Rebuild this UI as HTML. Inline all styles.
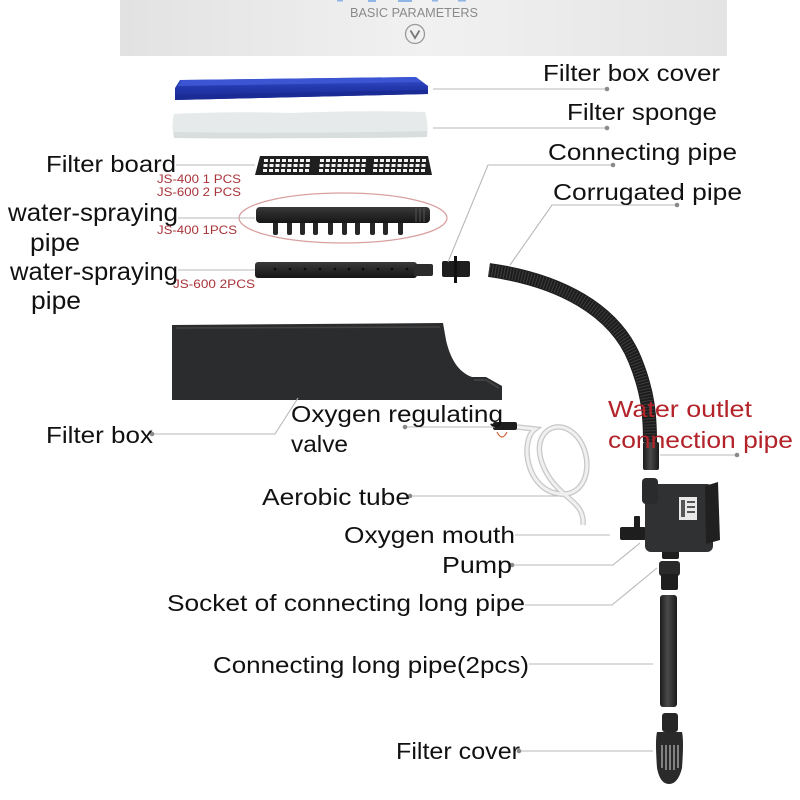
<!DOCTYPE html>
<html><head><meta charset="utf-8"><style>
html,body{margin:0;padding:0;background:#fff;}
svg{display:block;}
text{font-family:"Liberation Sans",sans-serif;}
</style></head><body>
<svg width="800" height="800" viewBox="0 0 800 800" xmlns="http://www.w3.org/2000/svg">
<defs>
<linearGradient id="hdr" x1="0" y1="0" x2="1" y2="0">
<stop offset="0" stop-color="#e2e2e2"/><stop offset="0.5" stop-color="#f1f1f1"/><stop offset="1" stop-color="#e4e4e4"/>
</linearGradient>
<linearGradient id="pipeV" x1="0" y1="0" x2="1" y2="0">
<stop offset="0" stop-color="#1c1c1c"/><stop offset="0.45" stop-color="#4a4a4a"/><stop offset="1" stop-color="#1a1a1a"/>
</linearGradient>
<linearGradient id="pipeH" x1="0" y1="0" x2="0" y2="1">
<stop offset="0" stop-color="#3a3a3a"/><stop offset="0.4" stop-color="#2a2a2a"/><stop offset="1" stop-color="#161616"/>
</linearGradient>
<linearGradient id="blue" x1="0" y1="0" x2="0" y2="1">
<stop offset="0" stop-color="#3a52cf"/><stop offset="0.45" stop-color="#2338ad"/><stop offset="1" stop-color="#1a2a92"/>
</linearGradient>
</defs>

<!-- header -->
<rect x="120" y="0" width="607" height="56" fill="url(#hdr)"/>
<g fill="#8fb4e6">
<rect x="337" y="0" width="6" height="1.5"/>
<rect x="368" y="0" width="8" height="2"/>
<rect x="398" y="0" width="14" height="2"/>
<rect x="432" y="0" width="6" height="1.5"/>
<rect x="458" y="0" width="8" height="1.5"/>
</g>
<text x="350" y="17" font-size="13" fill="#8a8a8a" textLength="128" lengthAdjust="spacingAndGlyphs">BASIC PARAMETERS</text>
<circle cx="415" cy="34" r="9.5" fill="none" stroke="#999" stroke-width="1.3"/>
<path d="M410.5,30.5 L415,38 L419.5,30.5" fill="none" stroke="#777" stroke-width="1.8"/>

<!-- blue cover -->
<path d="M180,80 L416,77 L428,86 L428,94 L175,100 L175,88 Z" fill="url(#blue)"/>
<path d="M182,80 L416,77 L421,82 L178,86 Z" fill="#3c55d2"/>
<path d="M175,95 L428,90 L428,94 L175,100 Z" fill="#1b2b95"/>

<!-- sponge -->
<path d="M174,114 Q230,111 290,113 Q360,110 425,112 Q429,125 427,137 Q360,139 300,137 Q230,139 174,138 Q171,126 174,114 Z" fill="#e6eaea"/>
<path d="M174,132 Q300,134 427,131 L427,137 Q300,139 174,138 Z" fill="#d8dddd"/>

<!-- filter board -->
<path d="M260,156 L428,156 L432,175 L255,175 Z" fill="#1f1f1f"/>
<g fill="#f2f2f2">
<g id="row">
<rect x="264" y="159" width="4" height="3"/><rect x="270" y="159" width="4" height="3"/><rect x="276" y="159" width="4" height="3"/><rect x="282" y="159" width="4" height="3"/><rect x="288" y="159" width="4" height="3"/><rect x="294" y="159" width="4" height="3"/><rect x="300" y="159" width="4" height="3"/><rect x="306" y="159" width="4" height="3"/>
<rect x="320" y="159" width="4" height="3"/><rect x="326" y="159" width="4" height="3"/><rect x="332" y="159" width="4" height="3"/><rect x="338" y="159" width="4" height="3"/><rect x="344" y="159" width="4" height="3"/><rect x="350" y="159" width="4" height="3"/><rect x="356" y="159" width="4" height="3"/><rect x="362" y="159" width="4" height="3"/>
<rect x="374" y="159" width="4" height="3"/><rect x="380" y="159" width="4" height="3"/><rect x="386" y="159" width="4" height="3"/><rect x="392" y="159" width="4" height="3"/><rect x="398" y="159" width="4" height="3"/><rect x="404" y="159" width="4" height="3"/><rect x="410" y="159" width="4" height="3"/><rect x="416" y="159" width="4" height="3"/><rect x="422" y="159" width="4" height="3"/>
</g>
<use href="#row" transform="translate(-0.5,5)"/>
<use href="#row" transform="translate(-1,10)"/>
</g>

<!-- red ellipse -->
<ellipse cx="343" cy="218" rx="104" ry="25" fill="none" stroke="#d9a0a0" stroke-width="1.3"/>

<!-- spray pipe 1 -->
<g fill="#262626">
<rect x="273" y="220" width="5" height="15" rx="2"/><rect x="287" y="220" width="5" height="15" rx="2"/><rect x="300" y="220" width="5" height="15" rx="2"/><rect x="313" y="220" width="5" height="15" rx="2"/><rect x="328" y="220" width="5" height="15" rx="2"/><rect x="342" y="220" width="5" height="15" rx="2"/><rect x="355" y="220" width="5" height="15" rx="2"/><rect x="370" y="220" width="5" height="15" rx="2"/><rect x="383" y="220" width="5" height="15" rx="2"/><rect x="398" y="220" width="5" height="15" rx="2"/>
</g>
<rect x="256" y="207" width="174" height="16" rx="4" fill="url(#pipeH)"/>
<g stroke="#555" stroke-width="1"><line x1="416" y1="208" x2="416" y2="222"/><line x1="420" y1="208" x2="420" y2="222"/><line x1="424" y1="208" x2="424" y2="222"/></g>

<!-- spray pipe 2 -->
<rect x="255" y="262" width="162" height="16" rx="3" fill="url(#pipeH)"/>
<rect x="414" y="264" width="19" height="12" rx="2" fill="#2c2c2c"/>
<g fill="#0a0a0a">
<circle cx="275" cy="269" r="1.3"/><circle cx="290" cy="269" r="1.3"/><circle cx="305" cy="269" r="1.3"/><circle cx="320" cy="269" r="1.3"/><circle cx="335" cy="269" r="1.3"/><circle cx="349" cy="269" r="1.3"/><circle cx="363" cy="269" r="1.3"/><circle cx="378" cy="269" r="1.3"/><circle cx="392" cy="269" r="1.3"/><circle cx="407" cy="269" r="1.3"/>
</g>

<!-- connecting piece -->
<rect x="442" y="261" width="28" height="16" rx="2" fill="#1e1e1e"/>
<rect x="454" y="256" width="3" height="27" fill="#111"/>

<!-- corrugated pipe -->
<path d="M489,270 C560,280 615,310 635,360 C648,392 650,415 650,442" fill="none" stroke="#1c1c1c" stroke-width="14" stroke-linecap="butt"/>
<path d="M489,270 C560,280 615,310 635,360 C648,392 650,415 650,442" fill="none" stroke="#3e3e3e" stroke-width="12" stroke-dasharray="1 2"/>

<!-- filter box -->
<path d="M172,325 L443,323 L446,340 C450,358 458,372 472,377 L486,377 L502,386 L502,400 L172,400 Z" fill="#2b2c2e"/>
<path d="M176,328 L440,327" stroke="#444" stroke-width="1.5"/>
<path d="M474,380 L486,380 L499,388" stroke="#474747" stroke-width="1.5" fill="none"/>

<!-- valve and tube -->
<path d="M517,427 L535,429 C520,440 525,490 560,494 C595,497 595,440 565,428 C548,422 530,440 545,470 C560,500 585,500 583,525" fill="none" stroke="#c8c8c8" stroke-width="5.5"/>
<path d="M517,427 L535,429 C520,440 525,490 560,494 C595,497 595,440 565,428 C548,422 530,440 545,470 C560,500 585,500 583,525" fill="none" stroke="#f0f0f0" stroke-width="3"/>
<rect x="493" y="422" width="24" height="8" rx="2" fill="#1d1d1d"/>
<path d="M497,432 Q502,442 507,432" fill="none" stroke="#d06040" stroke-width="1.2"/>

<!-- water outlet pipe -->
<rect x="643" y="442" width="16" height="28" rx="2" fill="url(#pipeV)"/>

<!-- pump -->
<rect x="620" y="527" width="26" height="13" rx="2" fill="#1e1e1e"/>
<rect x="634" y="516" width="6" height="13" rx="1" fill="#1e1e1e"/>
<rect x="662" y="540" width="17" height="19" rx="2" fill="#1e1e1e"/>
<rect x="645" y="484" width="68" height="68" rx="6" fill="#2f3133"/>
<rect x="642" y="478" width="16" height="26" rx="4" fill="#2a2b2d"/>
<path d="M705,486 L718,482 L720,540 L706,544 Z" fill="#202020"/>
<rect x="679" y="497" width="18" height="23" fill="#e8e8e8"/>
<g fill="#555"><rect x="681" y="500" width="4" height="17"/><rect x="687" y="501" width="8" height="2"/><rect x="687" y="506" width="8" height="2"/><rect x="687" y="511" width="8" height="2"/></g>

<!-- socket -->
<rect x="659" y="561" width="21" height="15" rx="3" fill="#2a2a2a"/>
<rect x="661" y="574" width="17" height="16" rx="2" fill="#1e1e1e"/>

<!-- long pipe -->
<rect x="660" y="595" width="17" height="112" rx="3" fill="url(#pipeV)"/>

<!-- filter cover -->
<rect x="662" y="713" width="16" height="19" rx="3" fill="#262626"/>
<path d="M657,732 L682,732 Q684,740 682,768 Q678,784 669,784 Q660,784 657,768 Q655,740 657,732 Z" fill="#2a2a2a"/>
<g stroke="#d8d8d8" stroke-width="1"><line x1="662" y1="745" x2="662" y2="768"/><line x1="666" y1="745" x2="666" y2="770"/><line x1="670" y1="745" x2="670" y2="770"/><line x1="674" y1="745" x2="674" y2="770"/><line x1="678" y1="745" x2="678" y2="768"/></g>

<!-- leader lines -->
<g stroke="#b8b8b8" stroke-width="1.1" fill="none">
<path d="M433,89 L607,89"/>
<path d="M433,128 L607,128"/>
<path d="M613,165 L488,165 L448,262"/>
<path d="M677,205 L552,205 L510,265"/>
<path d="M660,455 L737,455"/>
<path d="M176,165 L255,165"/>
<path d="M178,218 L255,218"/>
<path d="M178,270 L255,270"/>
<path d="M152,434 L275,434 L298,398"/>
<path d="M405,427 L495,427"/>
<path d="M410,496 L558,496"/>
<path d="M515,535 L610,535"/>
<path d="M512,565 L613,565 L640,543"/>
<path d="M525,605 L612,605 L657,568"/>
<path d="M529,664 L653,664"/>
<path d="M519,751 L653,751"/>
</g>
<g fill="#8a8a8a">
<circle cx="607" cy="89" r="2.3"/><circle cx="607" cy="128" r="2.3"/><circle cx="613" cy="165" r="2.3"/><circle cx="677" cy="205" r="2.3"/><circle cx="737" cy="455" r="2.3"/><circle cx="152" cy="434" r="2.3"/><circle cx="405" cy="427" r="2.3"/><circle cx="410" cy="496" r="2.3"/><circle cx="512" cy="565" r="2.3"/><circle cx="519" cy="751" r="2.3"/>
</g>

<!-- labels -->
<g fill="#111" font-size="23">
<text x="543" y="81" textLength="177" lengthAdjust="spacingAndGlyphs">Filter box cover</text>
<text x="567" y="120" textLength="150" lengthAdjust="spacingAndGlyphs">Filter sponge</text>
<text x="548" y="160" textLength="189" lengthAdjust="spacingAndGlyphs">Connecting pipe</text>
<text x="553" y="200" textLength="189" lengthAdjust="spacingAndGlyphs">Corrugated pipe</text>
<text x="46" y="172" textLength="130" lengthAdjust="spacingAndGlyphs">Filter board</text>
<text x="8" y="221" font-size="25" textLength="170" lengthAdjust="spacingAndGlyphs">water-spraying</text>
<text x="30" y="251" font-size="25" textLength="50" lengthAdjust="spacingAndGlyphs">pipe</text>
<text x="10" y="280" font-size="25" textLength="168" lengthAdjust="spacingAndGlyphs">water-spraying</text>
<text x="31" y="309" font-size="25" textLength="50" lengthAdjust="spacingAndGlyphs">pipe</text>
<text x="46" y="443" textLength="107" lengthAdjust="spacingAndGlyphs">Filter box</text>
<text x="291" y="422" textLength="212" lengthAdjust="spacingAndGlyphs">Oxygen regulating</text>
<text x="291" y="452" textLength="57" lengthAdjust="spacingAndGlyphs">valve</text>
<text x="262" y="505" textLength="148" lengthAdjust="spacingAndGlyphs">Aerobic tube</text>
<text x="344" y="543" textLength="171" lengthAdjust="spacingAndGlyphs">Oxygen mouth</text>
<text x="442" y="573" textLength="70" lengthAdjust="spacingAndGlyphs">Pump</text>
<text x="167" y="611" textLength="358" lengthAdjust="spacingAndGlyphs">Socket of connecting long pipe</text>
<text x="213" y="673" textLength="316" lengthAdjust="spacingAndGlyphs">Connecting long pipe(2pcs)</text>
<text x="396" y="759" textLength="124" lengthAdjust="spacingAndGlyphs">Filter cover</text>
</g>
<g fill="#b3232a" font-size="23">
<text x="608" y="417" textLength="144" lengthAdjust="spacingAndGlyphs">Water outlet</text>
<text x="608" y="448" textLength="185" lengthAdjust="spacingAndGlyphs">connection pipe</text>
</g>
<g fill="#a8343a" font-size="12">
<text x="157" y="183" textLength="84" lengthAdjust="spacingAndGlyphs">JS-400 1 PCS</text>
<text x="157" y="196" textLength="84" lengthAdjust="spacingAndGlyphs">JS-600 2 PCS</text>
<text x="157" y="234" textLength="80" lengthAdjust="spacingAndGlyphs">JS-400 1PCS</text>
<text x="173" y="288" textLength="82" lengthAdjust="spacingAndGlyphs">JS-600 2PCS</text>
</g>
</svg>
</body></html>
